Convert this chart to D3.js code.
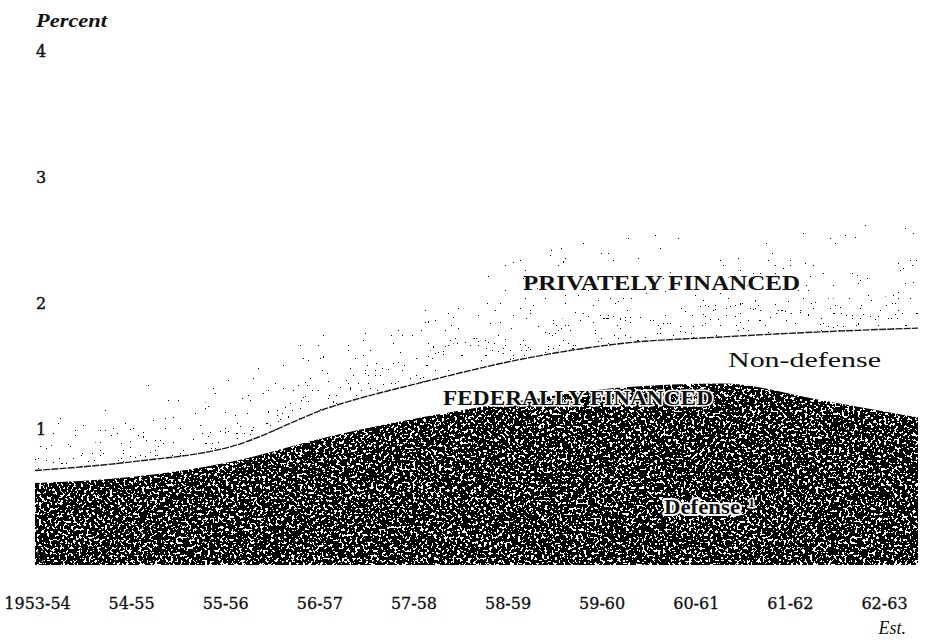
<!DOCTYPE html>
<head>
  <meta charset="utf-8">
  <script src="https://cdn.jsdelivr.net/npm/d3@7"></script>
  <style>
    body { margin:0; background:#fff; }
    svg { display:block; }
  </style>
</head>
<body>
<script>
// fiscal years on the x axis
const years = ["1953-54", "54-55", "55-56", "56-57", "57-58", "58-59", "59-60", "60-61", "61-62", "62-63"];
// percent of GNP
const defense      = [0.65, 0.70, 0.82, 1.02, 1.18, 1.31, 1.41, 1.44, 1.31, 1.17];
const federalTotal = [0.75, 0.82, 0.94, 1.25, 1.46, 1.64, 1.76, 1.81, 1.85, 1.88];
const total        = [1.40, 1.42, 1.55, 1.85, 2.25, 2.50, 2.65, 2.70, 2.72, 2.74];
const yTicks = [0, 1, 2, 3, 4];

const width = 944, height = 642;

const x = d3.scalePoint().domain(years).range([35, 918]);
const xLab = d3.scalePoint().domain(years).range([37, 884]);
const y = d3.scaleLinear().domain([0, 4]).range([565, 61]);

const data = years.map((yr, i) => ({
  yr: yr, def: defense[i], fed: federalTotal[i], tot: total[i]
}));

const svg = d3.select("body").append("svg")
    .attr("width", width)
    .attr("height", height);

const defs = svg.append("defs");

// threshold a noise field into black specks, clipped to the shape
function speckle(id, freq, octaves, cut, seed) {
  const f = defs.append("filter").attr("id", id)
      .attr("x", 0).attr("y", 0).attr("width", 1).attr("height", 1);
  f.append("feTurbulence").attr("type", "fractalNoise")
      .attr("baseFrequency", freq).attr("numOctaves", octaves).attr("seed", seed);
  f.append("feColorMatrix").attr("type", "matrix")
      .attr("values", "0 0 0 0 0  0 0 0 0 0  0 0 0 0 0  1 0 0 0 0");
  f.append("feComponentTransfer").attr("result", "t")
      .append("feFuncA").attr("type", "discrete")
      .attr("tableValues", d3.range(100).map(i => (cut > 0 ? i >= cut : i < -cut) ? 1 : 0).join(" "));
  f.append("feComposite").attr("in", "t").attr("in2", "SourceAlpha").attr("operator", "in");
}
speckle("grain", 0.38, 2, -59, 7);     // defense: mostly black
const bands = [
  { id: "dots0", lo: 0.00, hi: 0.30, cut: 72, seed: 2 },
  { id: "dots1", lo: 0.30, hi: 0.65, cut: 74, seed: 5 },
  { id: "dots2", lo: 0.65, hi: 1.00, cut: 76, seed: 9 }
];
bands.forEach(b => speckle(b.id, 0.6, 1, b.cut, b.seed));

const curve = d3.curveMonotoneX;
const lerp = (d, t) => d.fed + t * (d.tot - d.fed);

// privately financed, thinning out towards the top
svg.selectAll("path.private")
  .data(bands)
  .join("path")
    .attr("class", "private")
    .attr("d", b => d3.area().curve(curve)
        .x(d => x(d.yr)).y0(d => y(lerp(d, b.lo))).y1(d => y(lerp(d, b.hi)))(data))
    .attr("fill", "#000")
    .attr("filter", b => `url(#${b.id})`);

// defense
svg.append("path")
    .attr("d", d3.area().curve(curve).x(d => x(d.yr)).y0(y(0)).y1(d => y(d.def))(data))
    .attr("fill", "#000")
    .attr("filter", "url(#grain)");

// federal total boundary
svg.append("path")
    .attr("d", d3.line().curve(curve).x(d => x(d.yr)).y(d => y(d.fed))(data))
    .attr("fill", "none")
    .attr("stroke", "#1a1a1a")
    .attr("stroke-width", 1.4)
    .attr("stroke-dasharray", "7,1.2");

const serif = "'DejaVu Serif', serif";
const oldStyle = "'Liberation Serif', 'Times New Roman', serif";

// y axis
svg.append("text")
    .attr("x", 36).attr("y", 27)
    .attr("textLength", 71).attr("lengthAdjust", "spacingAndGlyphs")
    .attr("font-family", oldStyle)
    .attr("font-style", "italic")
    .attr("font-weight", "bold")
    .attr("font-size", 18)
    .attr("fill", "#111")
    .text("Percent");

svg.selectAll("text.ytick")
  .data(yTicks)
  .join("text")
    .attr("class", "ytick")
    .attr("x", 36)
    .attr("y", d => y(d) - 10)
    .attr("dy", "0.35em")
    .attr("font-family", serif)
    .attr("font-size", 16)
    .attr("fill", "#111")
    .attr("stroke", "#111").attr("stroke-width", 0.4)
    .text(d => d);

// x axis labels
const xAxis = svg.append("g")
    .attr("transform", "translate(0,611)")
    .call(d3.axisBottom(xLab).tickSize(0).tickPadding(0));
xAxis.select(".domain").remove();
xAxis.selectAll("text")
    .attr("font-family", serif)
    .attr("font-size", 16)
    .attr("fill", "#111")
    .attr("stroke", "#111").attr("stroke-width", 0.3)
    .attr("dy", "-0.1em");

svg.append("text")
    .attr("x", xLab("62-63") + 22).attr("y", 634)
    .attr("text-anchor", "end")
    .attr("font-family", oldStyle)
    .attr("font-style", "italic")
    .attr("font-size", 18)
    .attr("fill", "#111")
    .text("Est.");

// in-chart labels: a white halo copy underneath, then the black text
const labels = [
  { text: "PRIVATELY FINANCED", x: 523, y: 290, len: 277, size: 20, bold: true, halo: 2 },
  { text: "Non-defense", x: 728, y: 367, len: 153, size: 21, bold: false, halo: 0 },
  { text: "FEDERALLY FINANCED", x: 443, y: 405, len: 270, size: 21, bold: true, halo: 3 },
  { text: "Defense", x: 664, y: 514, len: 76, size: 20, bold: true, halo: 4 },
  { text: "1", x: 748, y: 507, len: 7, size: 13, bold: true, halo: 3 }
];
["halo", "ink"].forEach(layer => {
  svg.append("g").selectAll("text")
    .data(layer === "halo" ? labels.filter(d => d.halo) : labels)
    .join("text")
      .attr("x", d => d.x).attr("y", d => d.y)
      .attr("textLength", d => d.len).attr("lengthAdjust", "spacingAndGlyphs")
      .attr("font-family", oldStyle)
      .attr("font-weight", d => d.bold ? "bold" : "normal")
      .attr("font-size", d => d.size)
      .attr("fill", layer === "halo" ? "#fff" : "#111")
      .attr("stroke", layer === "halo" ? "#fff" : "none")
      .attr("stroke-width", d => layer === "halo" ? d.halo : 0)
      .attr("stroke-linejoin", "round")
      .text(d => d.text);
});
</script>
</body>
